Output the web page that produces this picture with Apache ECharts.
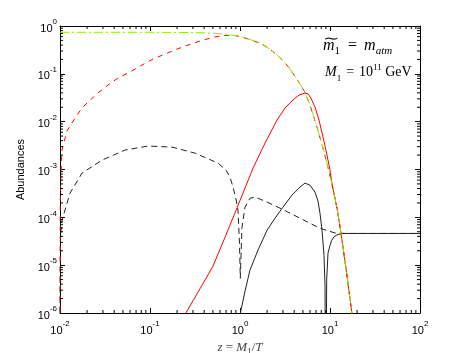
<!DOCTYPE html>
<html lang="en">
<head>
<meta charset="utf-8"/>
<title>Abundances</title>
<style>
    html, body { margin: 0; padding: 0; background: #fff; }
    #chart { width: 463px; height: 353px; }
</style>
</head>
<body>
<div id="chart"></div>
<script src="https://cdn.jsdelivr.net/npm/echarts@6/dist/echarts.min.js"></script>
<script>
// equilibrium abundance (green dash-dot)
var eqZ = [0.01, 0.1, 0.3, 0.5, 0.7, 0.85, 1.0, 1.3, 1.7, 2.0, 2.5, 3.0, 3.5, 4.2, 5.2, 6.0, 7.2, 8.5, 9.5, 10.5, 12.0, 13.2, 15.0, 17.5, 19.0];
var eqY = [0.74, 0.74, 0.73, 0.71, 0.67, 0.64, 0.60, 0.52, 0.43, 0.36, 0.26, 0.19, 0.135, 0.082, 0.043, 0.022, 0.0075, 0.0025, 0.0011, 5.0e-4, 1.5e-4, 4.9e-5, 9e-6, 1.0e-6, 2e-7];

// N1 abundance (red dashed)
var n1Z = [0.01, 0.010077, 0.01026, 0.01052, 0.01196, 0.01468, 0.01755, 0.02047, 0.0264, 0.0341, 0.0441, 0.060, 0.0815, 0.108, 0.147, 0.20, 0.264, 0.378, 0.50, 0.68, 0.85, 1.0, 1.3, 1.7, 2.0, 2.5, 3.0, 3.5, 4.2, 5.2, 6.0, 7.2, 8.5, 9.5, 10.5, 12.0, 13.2, 15.0, 17.5, 19.0];
var n1Y = [1e-7, 2.3e-4, 8.4e-4, 2.55e-3, 6.4e-3, 0.0119, 0.0193, 0.0257, 0.0397, 0.0583, 0.0817, 0.109, 0.153, 0.204, 0.26, 0.33, 0.40, 0.50, 0.58, 0.635, 0.64, 0.60, 0.52, 0.43, 0.36, 0.26, 0.19, 0.135, 0.082, 0.043, 0.022, 0.0075, 0.0025, 0.0011, 5.0e-4, 1.5e-4, 4.9e-5, 9e-6, 1.0e-6, 2e-7];

// red solid
var rsZ = [0.24, 0.25, 0.359, 0.50, 0.68, 0.93, 1.137, 1.395, 1.896, 2.576, 3.162, 3.88, 4.53, 5.27, 5.70, 6.15, 6.81, 7.55, 8.36, 9.26, 10.0, 10.5, 12.0, 13.2, 15.0, 17.5, 19.0];
var rsY = [7e-7, 1e-6, 3.2e-6, 9.5e-6, 3.8e-5, 1.6e-4, 4.1e-4, 1.07e-3, 3.56e-3, 0.0108, 0.0193, 0.0283, 0.036, 0.0397, 0.038, 0.031, 0.0202, 0.0108, 4.8e-3, 2.0e-3, 9.7e-4, 5.2e-4, 1.5e-4, 4.9e-5, 9e-6, 1.0e-6, 2e-7];

// black dashed
var bdZ = [0.01, 0.01013, 0.01052, 0.01292, 0.01755, 0.0293, 0.0527, 0.095, 0.1755, 0.316, 0.570, 0.699, 0.774, 0.836, 0.903, 0.950, 0.987, 1.008, 1.052, 1.137, 1.29, 1.468, 1.896, 2.78, 4.64, 7.74, 11.4, 14.7, 30, 100];
var bdY = [1e-6, 3.85e-5, 8.7e-5, 3.2e-4, 8.4e-4, 1.57e-3, 2.55e-3, 3.09e-3, 2.94e-3, 2.2e-3, 1.36e-3, 9.7e-4, 6.9e-4, 4.3e-4, 2.4e-4, 1.4e-4, 2.9e-5, 5.3e-6, 6.2e-5, 1.63e-4, 2.5e-4, 2.65e-4, 2.18e-4, 1.56e-4, 9.6e-5, 5.9e-5, 4.7e-5, 4.6e-5, 4.6e-5, 4.6e-5];

// black solid
var bsZ = [0.985, 1.137, 1.29, 1.585, 2.0, 2.45, 3.0, 3.78, 4.64, 5.27, 5.99, 6.81, 7.36, 7.74, 8.15, 8.58, 8.80, 8.95, 9.19, 9.5, 10.0, 10.44, 11.07, 11.85, 13.48, 20, 100];
var bsY = [8e-7, 2.86e-6, 7.86e-6, 2.06e-5, 5.4e-5, 9.6e-5, 1.63e-4, 2.91e-4, 4.28e-4, 5.19e-4, 4.72e-4, 3.37e-4, 2.18e-4, 1.22e-4, 5.4e-5, 1.6e-5, 3.8e-6, 1e-8, 4.9e-6, 1.78e-5, 2.6e-5, 3.3e-5, 3.9e-5, 4.25e-5, 4.6e-5, 4.6e-5, 4.6e-5];

// axis ranges / decades
var xMin = 0.01, xMax = 100;
var yMin = 1e-6, yMax = 1;
var xDecades = [-2, -1, 0, 1];
var yDecades = [-6, -5, -4, -3, -2, -1];

function pairs(zs, ys) {
    return zs.map(function (z, i) { return [z, ys[i]]; });
}

// minor tick positions 2..9 in each decade
var xMinor = [], yMinor = [];
xDecades.forEach(function (e) {
    for (var k = 2; k <= 9; k++) xMinor.push([k * Math.pow(10, e), 0.5]);
});
yDecades.forEach(function (e) {
    for (var k = 2; k <= 9; k++) yMinor.push([1, k * Math.pow(10, e)]);
});

var chart = echarts.init(document.getElementById('chart'), null, {renderer: 'canvas'});

function expLabel(v) {
    var e = Math.round(Math.log10(v));
    return '{b|10}{s|' + e + '}';
}
var labelRich = {
    b: {fontSize: 11, fontFamily: 'Liberation Sans', color: '#000', lineHeight: 16, verticalAlign: 'bottom'},
    s: {fontSize: 8, fontFamily: 'Liberation Sans', color: '#000', lineHeight: 16, verticalAlign: 'top'}
};

var frameLine = {show: true, lineStyle: {color: '#000', width: 1}};
var majorTick = {show: true, inside: true, length: 5, lineStyle: {color: '#000', width: 1}};

function minorTicks(isX) {
    return {
        type: 'custom',
        silent: true,
        clip: false,
        z: 5,
        data: isX ? xMinor : yMinor,
        renderItem: function (params, api) {
            var a, b;
            if (isX) {
                var v = api.value(0);
                a = api.coord([v, yMin]);
                b = api.coord([v, yMax]);
                return {type: 'group', children: [
                    {type: 'line', shape: {x1: a[0], y1: a[1], x2: a[0], y2: a[1] - 3}, style: {stroke: '#000', lineWidth: 1}},
                    {type: 'line', shape: {x1: b[0], y1: b[1], x2: b[0], y2: b[1] + 3}, style: {stroke: '#000', lineWidth: 1}}
                ]};
            }
            var w = api.value(1);
            a = api.coord([xMin, w]);
            b = api.coord([xMax, w]);
            return {type: 'group', children: [
                {type: 'line', shape: {x1: a[0], y1: a[1], x2: a[0] + 3, y2: a[1]}, style: {stroke: '#000', lineWidth: 1}},
                {type: 'line', shape: {x1: b[0], y1: b[1], x2: b[0] - 3, y2: b[1]}, style: {stroke: '#000', lineWidth: 1}}
            ]};
        }
    };
}

function curve(data, color, type, z) {
    return {
        type: 'line',
        data: data,
        symbol: 'none',
        smooth: false,
        clip: true,
        z: z,
        lineStyle: {color: color, width: 1, type: type}
    };
}

var serif = 'Liberation Serif';
var ink = '#222';

chart.setOption({
    animation: false,
    backgroundColor: '#fff',
    grid: {left: 60, right: 43, top: 26, bottom: 40, outerBoundsMode: 'none', containLabel: false},
    xAxis: [{
        type: 'log', min: xMin, max: xMax, splitNumber: 4,
        axisLine: frameLine, axisTick: majorTick,
        splitLine: {show: false}, minorTick: {show: false},
        axisLabel: {margin: 7, formatter: expLabel, rich: labelRich},
        name: '{i|z} = {i|M}{u|1}/{i|T}', nameLocation: 'middle', nameGap: 21,
        nameTextStyle: {
            fontFamily: serif, fontSize: 13, color: '#444', verticalAlign: 'top',
            rich: {
                i: {fontFamily: serif, fontStyle: 'italic', fontSize: 13, color: '#444', lineHeight: 18, verticalAlign: 'middle'},
                u: {fontFamily: serif, fontSize: 9, color: '#444', lineHeight: 18, verticalAlign: 'bottom'}
            }
        }
    }, {
        type: 'log', min: xMin, max: xMax, splitNumber: 4, position: 'top',
        axisLine: frameLine, axisTick: majorTick,
        splitLine: {show: false}, axisLabel: {show: false}
    }],
    yAxis: [{
        type: 'log', min: yMin, max: yMax, splitNumber: 6,
        axisLine: frameLine, axisTick: majorTick,
        splitLine: {show: false}, minorTick: {show: false},
        axisLabel: {margin: 3, formatter: expLabel, rich: labelRich},
        name: 'Abundances', nameLocation: 'middle', nameGap: 31, nameRotate: 90,
        nameTextStyle: {fontFamily: 'Liberation Sans', fontSize: 11, color: '#000'}
    }, {
        type: 'log', min: yMin, max: yMax, splitNumber: 6, position: 'right',
        axisLine: frameLine, axisTick: majorTick,
        splitLine: {show: false}, axisLabel: {show: false}
    }],
    series: [
        minorTicks(true),
        minorTicks(false),
        curve(pairs(bsZ, bsY), '#222', 'solid', 2),
        curve(pairs(bdZ, bdY), '#222', [6, 4], 2),
        curve(pairs(rsZ, rsY), '#ff0000', 'solid', 3),
        curve(pairs(n1Z, n1Y), '#ff0000', [5, 5], 3),
        curve(pairs(eqZ, eqY), '#88ee00', [9, 3, 2, 3], 4)
    ],
    graphic: [{
        // wide tilde over the m
        type: 'text', left: 323, top: 32, scaleX: 1.4,
        style: {text: '\u223C', fontFamily: serif, fontSize: 14, fill: ink}
    }, {
        type: 'text', left: 323, top: 38,
        style: {
            text: '{i|m}{u|1}{n|=}{i|m}{a|atm}',
            rich: {
                i: {fontFamily: serif, fontStyle: 'italic', fontSize: 16, color: ink, lineHeight: 22, verticalAlign: 'middle'},
                n: {fontFamily: serif, fontSize: 16, color: ink, lineHeight: 22, verticalAlign: 'middle', padding: [0, 7, 0, 8]},
                u: {fontFamily: serif, fontSize: 11, color: ink, lineHeight: 22, verticalAlign: 'bottom'},
                a: {fontFamily: serif, fontStyle: 'italic', fontSize: 11, color: ink, lineHeight: 22, verticalAlign: 'bottom'}
            }
        }
    }, {
        type: 'text', left: 325, top: 61,
        style: {
            text: '{i|M}{u|1}{n|=}{r|10}{s|11}{r| GeV}',
            rich: {
                i: {fontFamily: serif, fontStyle: 'italic', fontSize: 14, color: ink, lineHeight: 22, verticalAlign: 'middle'},
                r: {fontFamily: serif, fontSize: 14, color: ink, lineHeight: 22, verticalAlign: 'middle'},
                n: {fontFamily: serif, fontSize: 14, color: ink, lineHeight: 22, verticalAlign: 'middle', padding: [0, 5, 0, 5]},
                u: {fontFamily: serif, fontSize: 9, color: ink, lineHeight: 22, verticalAlign: 'bottom'},
                s: {fontFamily: serif, fontSize: 9, color: ink, lineHeight: 22, verticalAlign: 'top', padding: [2, 0, 0, 0]}
            }
        }
    }]
});
</script>
</body>
</html>
